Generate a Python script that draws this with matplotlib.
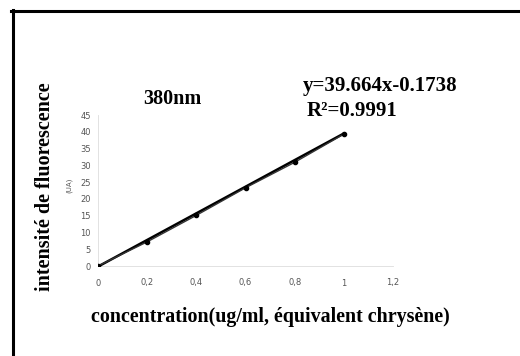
import numpy as np
import matplotlib.pyplot as plt

conc = [0, 0.2, 0.4, 0.6, 0.8, 1.0]
fluo = [0, 7.2, 15.1, 23.3, 30.9, 39.3]
slope = 39.664
intercept = -0.1738
xticks = [0, 0.2, 0.4, 0.6, 0.8, 1, 1.2]
xtick_labels = ['0', '0,2', '0,4', '0,6', '0,8', '1', '1,2']
yticks = [0, 5, 10, 15, 20, 25, 30, 35, 40, 45]

fig = plt.figure(figsize=(5.2, 3.56), dpi=100)

# frame lines (left + top only)
fig.add_artist(plt.Line2D([12.5/520, 12.5/520], [0, 1 - 10/356], color='black', lw=2.2,
                          transform=fig.transFigure))
fig.add_artist(plt.Line2D([11/520, 1], [1 - 11/356, 1 - 11/356], color='black', lw=2.2,
                          transform=fig.transFigure))

ax = fig.add_axes([98/520, 90/356, 295/520, 151/356])
ax.set_xlim(0, 1.2)
ax.set_ylim(0, 45)

xfit = np.array([0, 1.0])
ax.plot(conc, fluo, color='#333333', lw=1, marker='o', ms=3, mfc='black', mec='black', zorder=3)
ax.plot(xfit, slope * xfit + intercept, color='black', lw=1.8, zorder=2)

ax.set_xticks(xticks)
ax.set_xticklabels(xtick_labels)
ax.set_yticks(yticks)
ax.tick_params(labelsize=6, colors='#555555', length=0)
ax.tick_params(axis='x', pad=9)
ax.tick_params(axis='y', pad=5)
for s in ['top', 'right']:
    ax.spines[s].set_visible(False)
for s in ['left', 'bottom']:
    ax.spines[s].set_color('#dddddd')
    ax.spines[s].set_linewidth(0.6)

serif = 'Liberation Serif'
fig.text(270/520, 1 - 317/356, 'concentration(ug/ml, équivalent chrysène)', family=serif,
         weight='bold', fontsize=14.4, ha='center', va='center')
fig.text(45/520, 1 - 187/356, 'intensité de fluorescence', family=serif, weight='bold',
         fontsize=14.5, rotation=90, ha='center', va='center')
fig.text(69/520, 1 - 185/356, '(UA)', fontsize=5, color='#555555', rotation=90,
         ha='center', va='center')
fig.text(172/520, 1 - 99/356, '380nm', family=serif, weight='bold', fontsize=14.5,
         ha='center', va='center')
fig.text(303/520, 1 - 86/356, 'y=39.664x-0.1738', family=serif, weight='bold', fontsize=15,
         ha='left', va='center')
fig.text(307/520, 1 - 111/356, 'R²=0.9991', family=serif, weight='bold', fontsize=15,
         ha='left', va='center')

fig.savefig('out.png', dpi=100)
